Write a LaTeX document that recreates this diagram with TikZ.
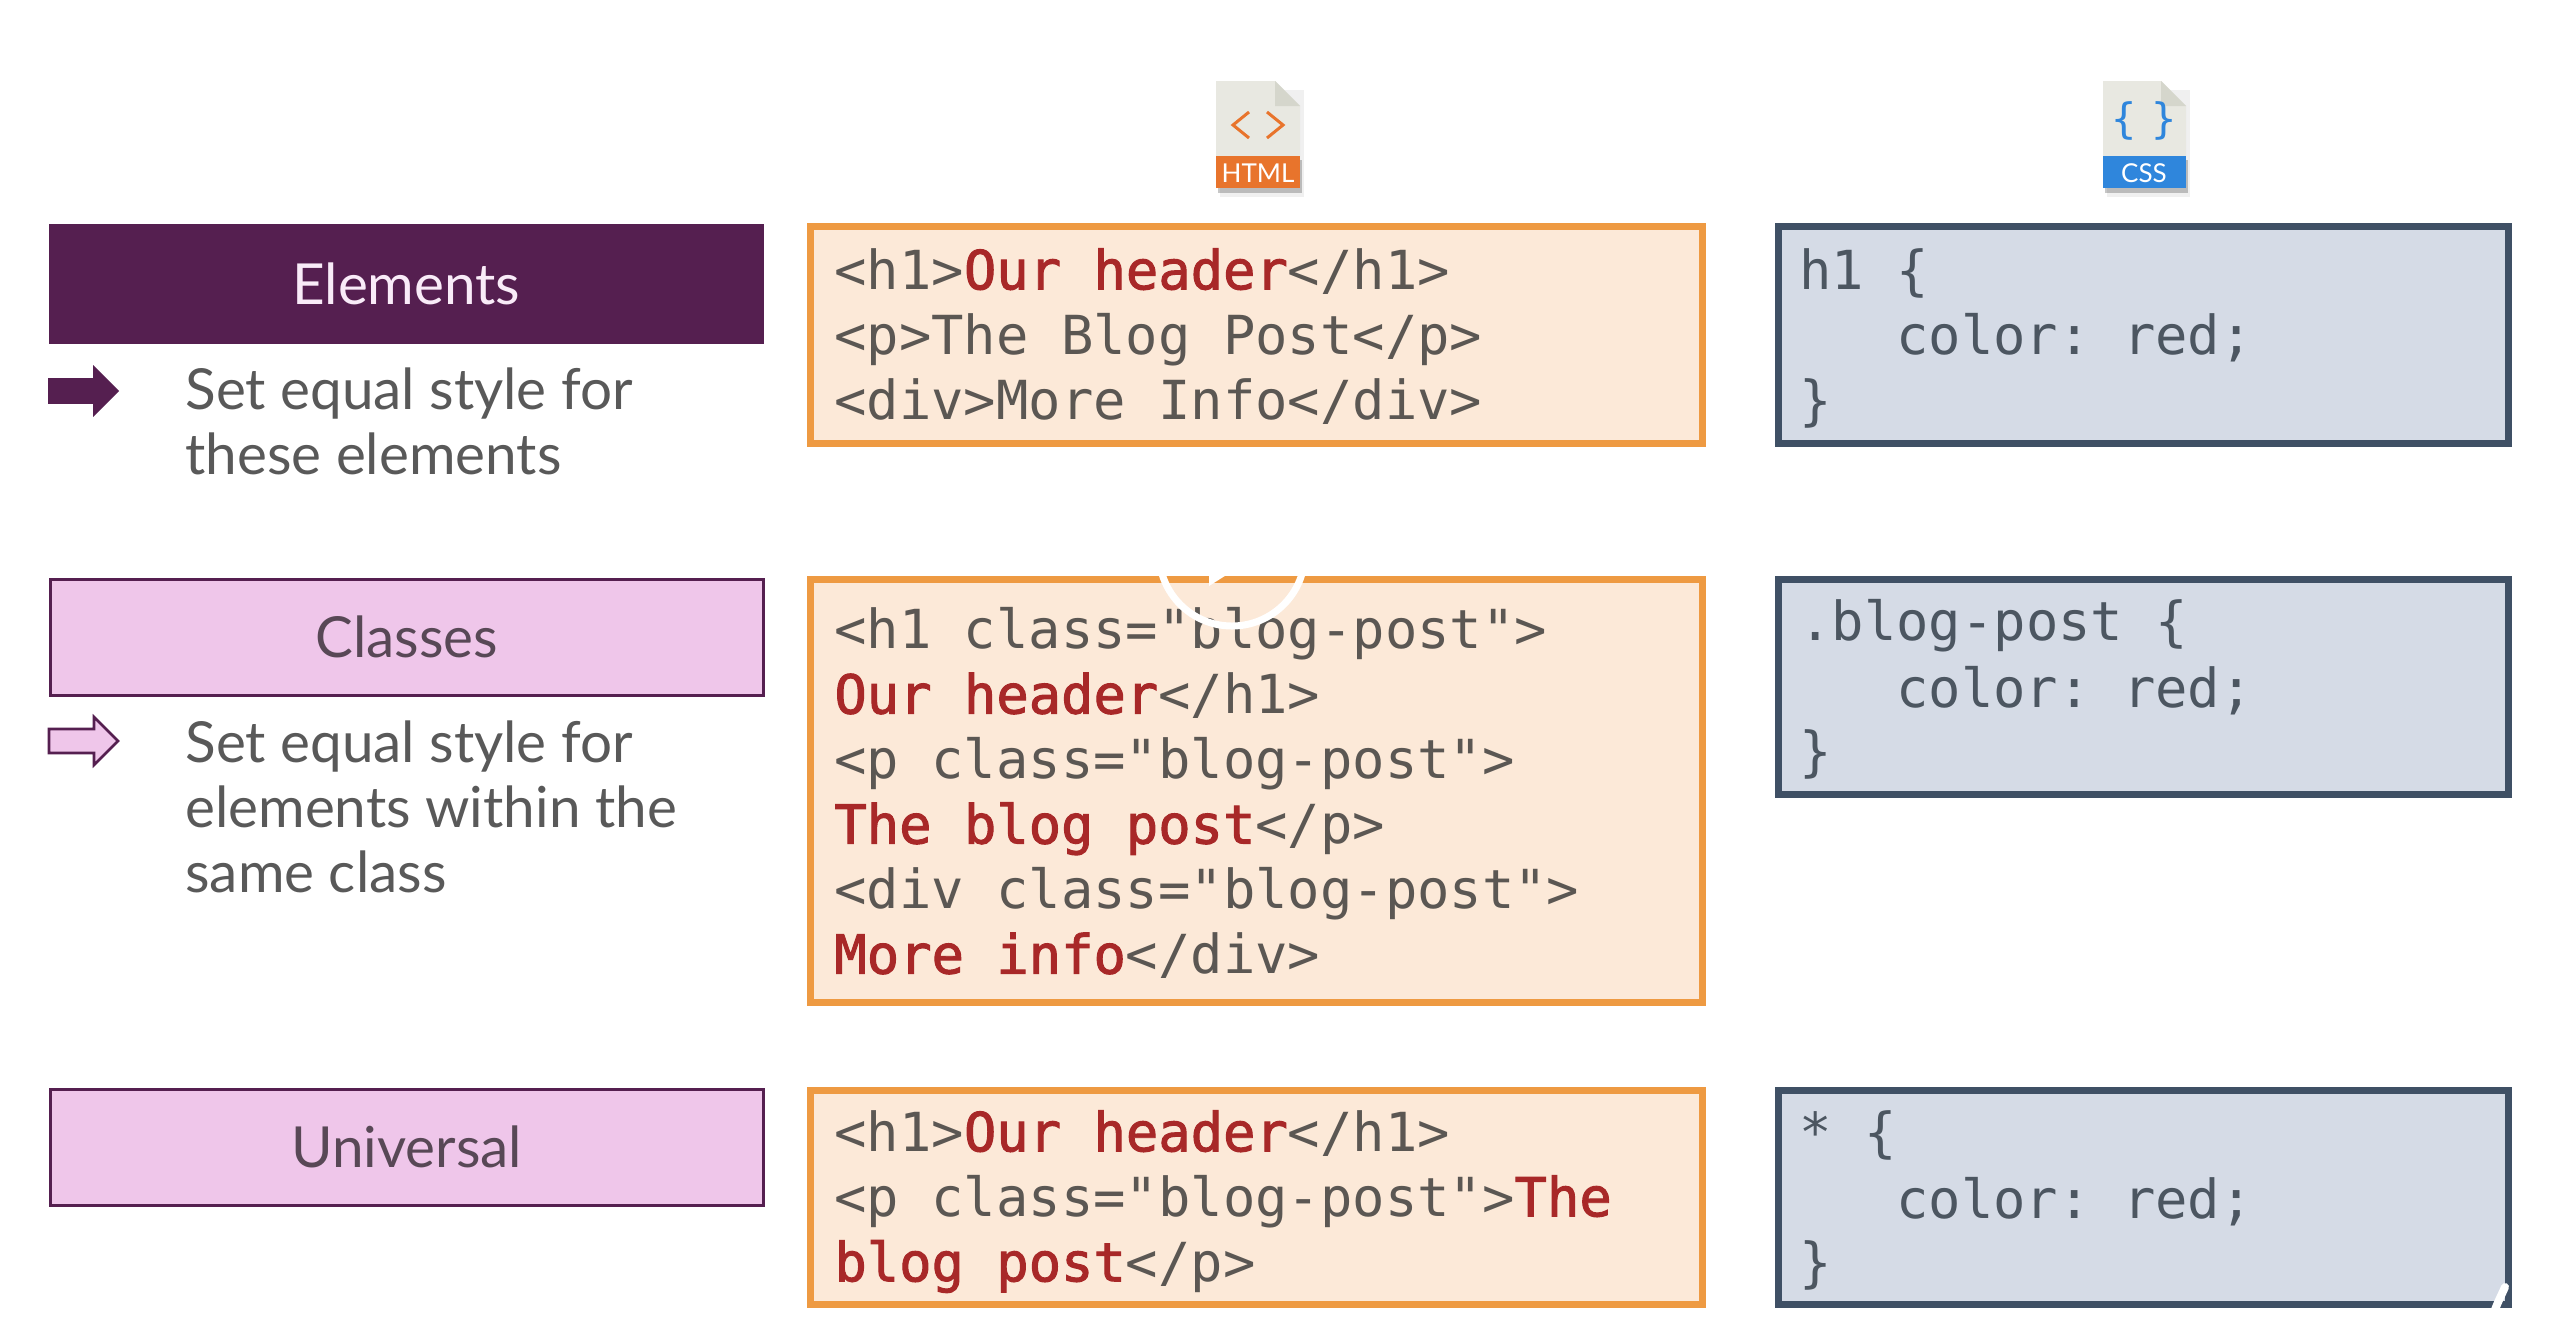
\documentclass[tikz,border=0pt]{standalone}
\usepackage{fontspec}
\setmainfont{Lato}
\newfontfamily\codefont{DejaVu Sans Mono}
\newfontfamily\codebold[FakeBold=1.8]{DejaVu Sans Mono}
\frenchspacing
\definecolor{htmlfill}{HTML}{FCE9D8}
\definecolor{htmlline}{HTML}{EE9A42}
\definecolor{cssfill}{HTML}{D5DBE6}
\definecolor{cssline}{HTML}{3F5065}
\definecolor{darkpurple}{HTML}{551F50}
\definecolor{lightpurple}{HTML}{EFC6EA}
\definecolor{bodygrey}{HTML}{595959}
\definecolor{codegrey}{HTML}{5B5753}
\definecolor{csscode}{HTML}{4C5661}
\definecolor{redcode}{HTML}{A82828}
\definecolor{pagegrey}{HTML}{E8E8E1}
\definecolor{foldgrey}{HTML}{D5D6CC}
\definecolor{iconorange}{HTML}{E8742C}
\definecolor{iconblue}{HTML}{2F86DC}
\newcommand{\rd}[1]{\textcolor{redcode}{\codebold #1}}
\tikzset{
  x=0.5pt,y=-0.5pt,
  labelbox/.style={rectangle,anchor=north west,inner sep=0pt,minimum width=356.5pt,minimum height=58pt,draw=darkpurple,font=\fontsize{28.3}{34}\selectfont},
  codebox/.style={rectangle,anchor=north west,inner sep=0pt,line width=3.5pt},
  htmlbox/.style={codebox,draw=htmlline,fill=htmlfill,minimum width=446pt},
  cssbox/.style={codebox,draw=cssline,fill=cssfill,minimum width=365pt},
  codetext/.style={anchor=north west,inner sep=0pt,align=left,text=codegrey,font=\codefont\fontsize{26.9}{32.5}\selectfont},
  csstext/.style={codetext,text=csscode},
  bodytext/.style={anchor=north west,inner sep=0pt,align=left,text=bodygrey,font=\fontsize{28.3}{32.5}\selectfont},
  pagefile/.style={fill=pagegrey},
  iconlabel/.style={inner sep=0pt,text=white,font=\fontsize{13}{13}\selectfont},
  chevron/.style={iconorange,line width=1.5pt},
  softshadow/.style={fill=black,opacity=.06},
  bandshadow/.style={fill=black,opacity=.22},
  overlay stroke/.style={white,line cap=round},
}
\begin{document}
\begin{tikzpicture}
\useasboundingbox (0,0) rectangle (2568,1340);
\fill[white] (0,0) rectangle (2568,1340);
% left labels
\node[labelbox,fill=darkpurple,line width=.8pt,text=lightpurple!35!white,minimum height=59pt] (elements) at (49,224) {Elements};
\node[labelbox,fill=lightpurple,line width=1.3pt,text=darkpurple!30!bodygrey] (classes) at (49,578) {Classes};
\node[labelbox,fill=lightpurple,line width=1.3pt,text=darkpurple!30!bodygrey] (universal) at (49,1088) {Universal};
% arrows
\draw[fill=darkpurple,draw=darkpurple,line width=.8pt,line join=miter] (49,379)--(94,379)--(94,367)--(118,391)--(94,415)--(94,403)--(49,403)--cycle;
\draw[fill=lightpurple,draw=darkpurple,line width=1.3pt,line join=miter] (49,729)--(94,729)--(94,717)--(118,741)--(94,765)--(94,753)--(49,753)--cycle;
% descriptions
\node[bodytext] (d1) at (185,367) {Set equal style for\\these elements};
\node[bodytext] (d2) at (185,720) {Set equal style for\\elements within the\\same class};
% html boxes
\node[htmlbox,minimum height=108.5pt] (h1) at (807,223) {};
\node[htmlbox,minimum height=211.5pt] (h2) at (807,576) {};
\node[htmlbox,minimum height=107pt] (h3) at (807,1087) {};
% css boxes
\node[cssbox,minimum height=108.5pt] (c1) at (1775,223) {};
\node[cssbox,minimum height=107.5pt] (c2) at (1775,576) {};
\node[cssbox,minimum height=107pt] (c3) at (1775,1087) {};
% code
\node[codetext] (t1) at (834,248) {<h1>\rd{Our header}</h1>\\<p>The Blog Post</p>\\<div>More Info</div>};
\node[codetext] (t2) at (834,607) {<h1 class="blog-post">\\\rd{Our header}</h1>\\<p class="blog-post">\\\rd{The blog post}</p>\\<div class="blog-post">\\\rd{More info}</div>};
\node[codetext] (t3) at (834,1110) {<h1>\rd{Our header}</h1>\\<p class="blog-post">\rd{The}\\\rd{blog post}</p>};
\node[csstext] (s1) at (1799,248) {h1 \{\\\\\}};
\node[csstext] (s1b) at (1896,313) {color: red;};
\node[csstext] (s2) at (1799,599) {.blog-post \{\\\\\}};
\node[csstext] (s2b) at (1896,666) {color: red;};
\node[csstext] (s3) at (1799,1110) {* \{\\\\\}};
\node[csstext] (s3b) at (1896,1177) {color: red;};
% html icon
\fill[softshadow] (1220,90) rectangle (1304,197);
\fill[bandshadow] (1218,160) rectangle (1302,193);
\fill[pagefile] (1216,81)--(1275,81)--(1300,106)--(1300,156)--(1216,156)--cycle;
\fill[foldgrey] (1275,81)--(1300,106)--(1275,106)--cycle;
\fill[iconorange] (1216,156) rectangle (1300,188);
\draw[chevron] (1249,112)--(1233,125)--(1249,138);
\draw[chevron] (1267,112)--(1283,125)--(1267,138);
\node[iconlabel] (htmlname) at (1258,173) {HTML};
% css icon
\fill[softshadow] (2107,90) rectangle (2190,197);
\fill[bandshadow] (2105,160) rectangle (2188,193);
\fill[pagefile] (2103,81)--(2161,81)--(2186,106)--(2186,156)--(2103,156)--cycle;
\fill[foldgrey] (2161,81)--(2186,106)--(2161,106)--cycle;
\fill[iconblue] (2103,156) rectangle (2186,188);
\node[inner sep=0pt,text=iconblue,font=\codefont\fontsize{21}{21}\selectfont] (bracesname) at (2144,121) {\{\,\,\}};
\node[iconlabel] (cssname) at (2144,173) {CSS};
% video overlay
\begin{scope}
\clip (1100,560) rectangle (1400,700);
\draw[white,line width=3.5pt] (1232,553) circle[radius=73];
\fill[white] (1209,586)--(1209,540)--(1250,560)--cycle;
\end{scope}
% watermark
\draw[overlay stroke,line width=4pt] (2505,1287) .. controls (2497,1305) and (2487,1322) .. (2496,1330) .. controls (2508,1334) and (2514,1315) .. (2520,1300);
\draw[overlay stroke,line width=3pt] (2520,1302) .. controls (2520,1320) and (2530,1325) .. (2545,1318);
\draw[overlay stroke,line width=3pt] (2550,1300) .. controls (2548,1320) and (2555,1325) .. (2568,1315);
\end{tikzpicture}
\end{document}
